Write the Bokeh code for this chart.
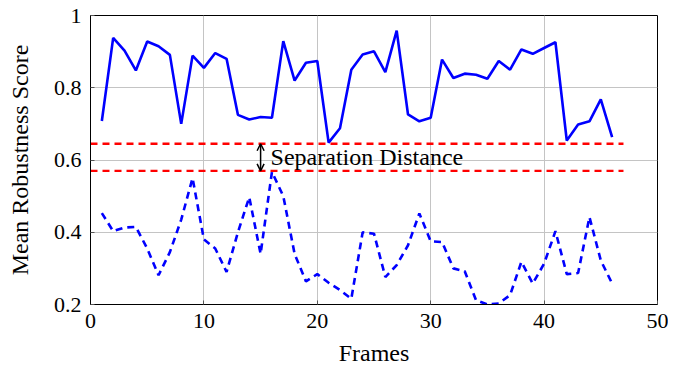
from bokeh.plotting import figure
from bokeh.models import Range1d, FixedTicker, Arrow, OpenHead, Label
from bokeh.embed import file_html
from bokeh.resources import INLINE

frames = list(range(1, 47))
solid_scores = [0.708, 0.938, 0.903, 0.848, 0.928, 0.915, 0.891, 0.700, 0.889, 0.855,
                0.896, 0.880, 0.725, 0.712, 0.719, 0.717, 0.929, 0.820, 0.869, 0.874,
                0.648, 0.688, 0.850, 0.892, 0.901, 0.843, 0.958, 0.726, 0.707, 0.717,
                0.878, 0.827, 0.839, 0.836, 0.825, 0.874, 0.850, 0.906, 0.894, 0.910,
                0.926, 0.654, 0.698, 0.707, 0.768, 0.663]
dashed_scores = [0.453, 0.403, 0.413, 0.415, 0.355, 0.281, 0.345, 0.435, 0.550, 0.380,
                 0.355, 0.290, 0.400, 0.497, 0.340, 0.567, 0.500, 0.340, 0.264, 0.284,
                 0.260, 0.240, 0.216, 0.400, 0.396, 0.276, 0.309, 0.364, 0.452, 0.375,
                 0.373, 0.300, 0.292, 0.212, 0.200, 0.203, 0.226, 0.318, 0.258, 0.313,
                 0.403, 0.284, 0.287, 0.442, 0.322, 0.258]
sep_upper = 0.645
sep_lower = 0.57
sep_x = [0, 47]
arrow_x = 15
annotation = "Separation Distance"
x_ticks = [0, 10, 20, 30, 40, 50]
y_ticks = [0.2, 0.4, 0.6, 0.8, 1.0]
y_tick_labels = ["0.2", "0.4", "0.6", "0.8", "1"]

FONT = "Liberation Serif"

p = figure(width=668, height=370, output_backend="svg", toolbar_location=None,
           x_range=Range1d(0, 50), y_range=Range1d(0.2, 1.0),
           min_border_left=90, min_border_right=11, min_border_top=15, min_border_bottom=66)

p.outline_line_color = "black"
p.outline_line_width = 1
p.background_fill_color = "white"

for g in (p.xgrid, p.ygrid):
    g.grid_line_color = "#c4c4c4"
    g.grid_line_width = 1
p.xgrid.ticker = FixedTicker(ticks=x_ticks)
p.ygrid.ticker = FixedTicker(ticks=y_ticks)

p.xaxis.ticker = FixedTicker(ticks=x_ticks)
p.yaxis.ticker = FixedTicker(ticks=y_ticks)
p.yaxis.major_label_overrides = {t: l for t, l in zip(y_ticks, y_tick_labels)}

for ax in (p.xaxis[0], p.yaxis[0]):
    ax.axis_line_color = "black"
    ax.major_tick_in = 4
    ax.major_tick_out = 0
    ax.minor_tick_line_color = None
    ax.major_tick_line_color = "#555555"
    ax.major_label_text_font = FONT
    ax.major_label_text_font_size = "22px"
    ax.major_label_text_color = "black"
    ax.axis_label_text_font = FONT
    ax.axis_label_text_font_size = "24px"
    ax.axis_label_text_font_style = "normal"
    ax.axis_label_text_color = "black"

p.xaxis.axis_label = "Frames"
p.yaxis.axis_label = "Mean Robustness Score"
p.xaxis.major_label_standoff = 9
p.xaxis.axis_label_standoff = 9
p.yaxis.major_label_standoff = 9
p.yaxis.axis_label_standoff = 18

p.line(frames, solid_scores, line_color="blue", line_width=2.6)
p.line(frames, dashed_scores, line_color="blue", line_width=2.6, line_dash="7 5")

p.line(sep_x, [sep_upper, sep_upper], line_color="red", line_width=2.4, line_dash="7 5")
p.line(sep_x, [sep_lower, sep_lower], line_color="red", line_width=2.4, line_dash="7 5")

p.add_layout(Arrow(start=OpenHead(size=7, line_width=1.5), end=OpenHead(size=7, line_width=1.5),
                   x_start=arrow_x, y_start=sep_lower, x_end=arrow_x, y_end=sep_upper,
                   line_width=1.5, line_color="black"))
p.add_layout(Label(x=arrow_x, y=(sep_upper + sep_lower) / 2, x_offset=10, text=annotation,
                   text_baseline="middle", text_font=FONT, text_font_size="24px",
                   text_color="black"))

open("out.html", "w").write(file_html(p, INLINE))
